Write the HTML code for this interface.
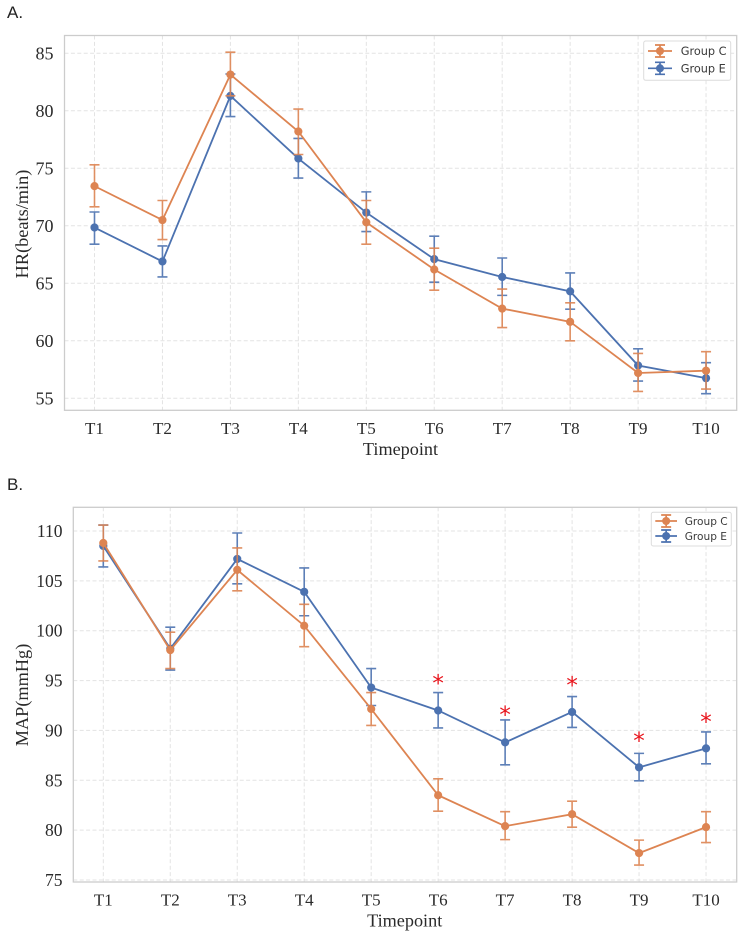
<!DOCTYPE html>
<html lang="en">
<head>
<meta charset="utf-8">
<title>HR and MAP by timepoint</title>
<style>
html,body{margin:0;padding:0;background:#fff;}
body{width:744px;height:938px;overflow:hidden;}
svg{display:block;}
text{font-family:"Liberation Serif",serif;fill:#2a2a2a;}
.panel-letter{font-family:"Liberation Sans",sans-serif;font-size:17px;fill:#222;}
.legend-text{font-family:"DejaVu Sans",sans-serif;fill:#3a3a3a;}
.star{font-family:"DejaVu Sans",sans-serif;font-size:23px;fill:#e8141c;text-anchor:middle;}
</style>
</head>
<body>
<svg id="fig" width="744" height="938" viewBox="0 0 744 938" xmlns="http://www.w3.org/2000/svg">
  <rect x="0" y="0" width="744" height="938" fill="#ffffff"/>
  <text class="panel-letter" x="7" y="18">A.</text>
  <text class="panel-letter" x="7" y="490">B.</text>
  <g id="panelA"></g>
  <g id="panelB"></g>
</svg>
<script>
const categories = ['T1','T2','T3','T4','T5','T6','T7','T8','T9','T10'];

const hrTicks = [55,60,65,70,75,80,85];
const hrCMean  = [73.45,70.5,83.15,78.2,70.3,66.2,62.8,61.65,57.2,57.4];
const hrCUpper = [75.3,72.2,85.1,80.15,72.2,68.05,64.5,63.3,58.9,59.05];
const hrCLower = [71.65,68.8,81.3,76.2,68.4,64.4,61.15,60.0,55.6,55.8];
const hrEMean  = [69.85,66.9,81.3,75.85,71.15,67.1,65.55,64.3,57.85,56.75];
const hrEUpper = [71.2,68.25,83.2,77.6,72.95,69.1,67.2,65.9,59.3,58.1];
const hrELower = [68.4,65.55,79.5,74.15,69.5,65.1,63.95,62.75,56.5,55.4];

const mapTicks = [75,80,85,90,95,100,105,110];
const mapCMean  = [108.8,98.05,106.1,100.5,92.15,83.5,80.4,81.6,77.7,80.3];
const mapCUpper = [110.6,99.85,108.3,102.65,93.8,85.15,81.85,82.9,79.0,81.85];
const mapCLower = [107.0,96.2,104.0,98.4,90.5,81.9,79.05,80.3,76.5,78.75];
const mapEMean  = [108.5,98.2,107.2,103.9,94.3,92.0,88.8,91.85,86.3,88.2];
const mapEUpper = [110.6,100.35,109.8,106.3,96.2,93.8,91.05,93.4,87.7,89.85];
const mapELower = [106.4,96.05,104.7,101.5,92.5,90.25,86.55,90.3,84.95,86.65];
const mapStars  = [null,null,null,null,null,95.15,92.0,94.95,89.4,91.3];

const legendLabels = ['Group C','Group E'];
const hrYTitle = 'HR(beats/min)';
const mapYTitle = 'MAP(mmHg)';
const xTitle = 'Timepoint';

const NS = 'http://www.w3.org/2000/svg';
const ORANGE = '#dd8452';
const BLUE = '#4c72b0';

function make(tag, attrs, parent, txt) {
  const n = document.createElementNS(NS, tag);
  for (const k in attrs) n.setAttribute(k, attrs[k]);
  if (txt !== undefined) n.textContent = txt;
  parent.appendChild(n);
  return n;
}
function linear(d0, d1, r0, r1) {
  return v => r0 + (v - d0) * (r1 - r0) / (d1 - d0);
}

function drawSeries(root, xs, y, mean, upper, lower, color, key) {
  const g = make('g', {}, root);
  
  
  mean.forEach((m, i) => {
    const x = xs(i);
    const bar = make('path', {
      d: 'M' + x + ' ' + y(upper[i]) + 'V' + y(lower[i]) +
         'M' + (x - 5) + ' ' + y(upper[i]) + 'H' + (x + 5) +
         'M' + (x - 5) + ' ' + y(lower[i]) + 'H' + (x + 5),
      fill: 'none', stroke: color, 'stroke-width': 1.6, 'stroke-opacity': 0.9
    }, g);
    
    
  });
  const line = make('polyline', {
    points: mean.map((m, i) => xs(i) + ',' + y(m)).join(' '),
    fill: 'none', stroke: color, 'stroke-width': 1.8
  }, g);
  
  
  mean.forEach((m, i) => {
    const pt = make('circle', {cx: xs(i), cy: y(m), r: 4.1, fill: color}, g);
    
    
  });
}

function drawLegend(root, box, handleX0, handleX1, rowYs, textX, textSize, prefix) {
  const g = make('g', {}, root);
  
  
  make('rect', {x: box[0], y: box[1], width: box[2], height: box[3], rx: 2,
    fill: '#fff', 'fill-opacity': 0.9, stroke: '#dcdcdc', 'stroke-width': 1}, g);
  const colors = [ORANGE, BLUE];
  legendLabels.forEach((lab, i) => {
    const yy = rowYs[i];
    const mid = (handleX0 + handleX1) / 2;
    const h = make('g', {}, g);
    
    
    make('path', {
      d: 'M' + handleX0 + ' ' + yy + 'H' + handleX1 +
         'M' + mid + ' ' + (yy - 6) + 'V' + (yy + 6) +
         'M' + (mid - 5) + ' ' + (yy - 6) + 'H' + (mid + 5) +
         'M' + (mid - 5) + ' ' + (yy + 6) + 'H' + (mid + 5),
      fill: 'none', stroke: colors[i], 'stroke-width': 1.7
    }, h);
    make('circle', {cx: mid, cy: yy, r: 4, fill: colors[i]}, h);
    const t = make('text', {x: textX, y: yy + 4.1, class: 'legend-text', 'font-size': textSize}, g, lab);
    
    
  });
}

function drawPanel(o) {
  const root = o.root, p = o.plot;
  const y = linear(o.dom[0], o.dom[1], o.rng[0], o.rng[1]);
  const xs = i => o.x0 + i * o.dx;

  const gridG = make('g', {fill: 'none', stroke: '#e3e3e3', 'stroke-width': 1, 'stroke-dasharray': '4 2.4'}, root);
  
  
  o.ticks.forEach(t => {
    make('line', {x1: p.l, x2: p.r, y1: y(t), y2: y(t)}, gridG);
  });
  categories.forEach((c, i) => {
    make('line', {x1: xs(i), x2: xs(i), y1: p.t, y2: p.b}, gridG);
  });

  const frame = make('rect', {x: p.l, y: p.t, width: p.r - p.l, height: p.b - p.t,
    fill: 'none', stroke: '#cccccc', 'stroke-width': 1.3}, root);
  
  

  o.ticks.forEach(t => {
    const lab = make('text', {x: o.tickRight, y: y(t) + 6, 'text-anchor': 'end', 'font-size': o.tickSize}, root, String(t));
    
    
  });
  categories.forEach((c, i) => {
    const lab = make('text', {x: xs(i), y: o.xTickY, 'text-anchor': 'middle', 'font-size': 17}, root, c);
    
    
  });

  const xt = make('text', {x: o.xTitleX, y: o.xTitleY, 'text-anchor': 'middle', 'font-size': 18.2}, root, xTitle);
  
  
  const yt = make('text', {transform: 'translate(28 ' + o.yTitleY + ') rotate(-90)', 'text-anchor': 'middle', 'font-size': 18.3}, root, o.yTitle);
  
  

  drawSeries(root, xs, y, o.eMean, o.eUpper, o.eLower, BLUE, o.prefix + '-group-e');
  drawSeries(root, xs, y, o.cMean, o.cUpper, o.cLower, ORANGE, o.prefix + '-group-c');

  if (o.stars) {
    o.stars.forEach((s, i) => {
      if (s === null) return;
      const st = make('text', {x: xs(i), y: y(s) + 12, class: 'star'}, root, '*');
      
      
    });
  }
  drawLegend(root, o.legendBox, o.handle[0], o.handle[1], o.legendRows, o.legendTextX, o.legendSize, o.prefix);
}

drawPanel({
  root: document.getElementById('panelA'), prefix: 'hr',
  plot: {l: 64.5, r: 736.7, t: 35.5, b: 410.3},
  dom: [55, 85], rng: [398.3, 53.3], ticks: hrTicks,
  x0: 94.5, dx: 67.95, tickRight: 53.5, tickSize: 18, xTickY: 434,
  xTitleX: 400.5, xTitleY: 455, yTitle: hrYTitle, yTitleY: 224,
  cMean: hrCMean, cUpper: hrCUpper, cLower: hrCLower,
  eMean: hrEMean, eUpper: hrEUpper, eLower: hrELower,
  legendBox: [643.7, 41, 87, 39.3], handle: [648, 672], legendRows: [51, 68.3], legendTextX: 680.7, legendSize: 11.3
});
drawPanel({
  root: document.getElementById('panelB'), prefix: 'map',
  plot: {l: 73.3, r: 736.7, t: 507.3, b: 882},
  dom: [75, 110], rng: [880, 531], ticks: mapTicks,
  x0: 103.3, dx: 66.97, tickRight: 62.5, tickSize: 17.5, xTickY: 905.7,
  xTitleX: 404.7, xTitleY: 926.7, yTitle: mapYTitle, yTitleY: 695,
  cMean: mapCMean, cUpper: mapCUpper, cLower: mapCLower,
  eMean: mapEMean, eUpper: mapEUpper, eLower: mapELower, stars: mapStars,
  legendBox: [651.3, 512.3, 80, 33.7], handle: [655.3, 677], legendRows: [521, 536], legendTextX: 684.7, legendSize: 10.6
});
</script>
</body>
</html>
